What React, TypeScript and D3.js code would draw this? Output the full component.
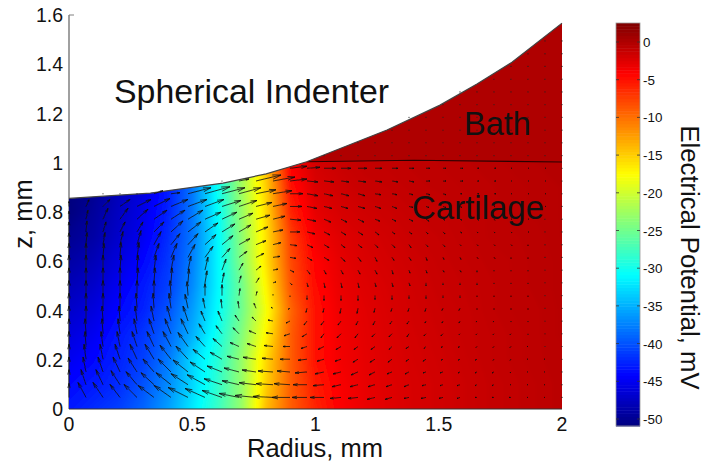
import React from 'react';
import * as d3 from 'd3';

const width = 717;
const height = 466;

const xTicks = [0, 0.5, 1, 1.5, 2];
const yTicks = [0, 0.2, 0.4, 0.6, 0.8, 1, 1.2, 1.4, 1.6];
const barTicks = [0, -5, -10, -15, -20, -25, -30, -35, -40, -45, -50];

// indenter contact surface and cartilage/bath interface, mm
const surfaceR = [0, 0.33, 0.625, 0.8, 0.964, 1.29, 1.505, 1.655, 1.797, 2];
const surfaceZ = [0.855, 0.877, 0.917, 0.955, 1.004, 1.133, 1.234, 1.32, 1.408, 1.567];
const interfaceR = [0.964, 1.4, 2];
const interfaceZ = [1.004, 1.01, 1.003];

const bathPotential = 0;

// potential in mV, one row per z (0, 0.1 ... 1.0), one value per r (0, 0.1 ... 2.0)
const potential = [
  [-43, -42, -41, -39, -36, -32, -28, -23, -14, -9, -6, -4, -3, -2.5, -2, -1.7, -1.4, -1.1, -0.9, -0.7, -0.5],
  [-44, -43, -42, -40, -37, -33, -28.5, -23, -15, -9, -5.5, -3.8, -2.9, -2.4, -2, -1.7, -1.4, -1.1, -0.9, -0.7, -0.5],
  [-45, -44, -42.5, -41, -38, -33, -29, -23, -15.5, -9, -5, -3.5, -2.8, -2.3, -1.9, -1.6, -1.3, -1, -0.8, -0.6, -0.5],
  [-46, -45, -43, -41.5, -39, -35, -30, -24, -17, -9, -5, -3.4, -2.7, -2.2, -1.8, -1.5, -1.2, -1, -0.8, -0.6, -0.4],
  [-47, -46, -44, -42.5, -40, -36, -31, -25, -18, -9.5, -5, -3.2, -2.6, -2.1, -1.7, -1.4, -1.2, -0.9, -0.7, -0.6, -0.4],
  [-48, -47, -45, -43, -41, -37, -31.5, -25, -17, -8.5, -4.6, -3, -2.4, -2, -1.6, -1.3, -1.1, -0.9, -0.7, -0.5, -0.4],
  [-49, -48, -46, -44, -41.5, -37.5, -31.5, -24, -16, -8, -4.2, -2.8, -2.2, -1.8, -1.5, -1.2, -1, -0.8, -0.7, -0.5, -0.4],
  [-50, -49, -47, -45, -42, -38, -31.5, -23.5, -16, -7.5, -3.5, -2.5, -2, -1.6, -1.3, -1.1, -0.9, -0.7, -0.6, -0.5, -0.3],
  [-51, -49.5, -47.5, -45.5, -42.5, -38, -31, -23, -15.5, -6, -2.8, -2, -1.6, -1.4, -1.1, -1, -0.8, -0.7, -0.5, -0.4, -0.3],
  [-51, -50, -48, -46, -43, -38, -30.5, -22.5, -15, -5, -2.2, -1.6, -1.2, -1.1, -0.9, -0.8, -0.7, -0.6, -0.5, -0.4, -0.3],
  [-51, -50, -48, -46, -43, -38, -30, -22, -14, -4, -1.8, -1.3, -1, -0.9, -0.8, -0.7, -0.6, -0.5, -0.4, -0.3, -0.3],
];

// arrow components, rows bottom to top, columns r = 2*i/29 for i = 1..29
const flowU = [
  [-8, -10, -10, -13, -16, -17, -20, -20, -20, -20, -21, -20, -18, -15, -14, -11, -10, -8, -7, -5, -5, -4, -3, -2, -2, -2, -1, -1, 0],
  [-5, -7, -9, -11, -13, -15, -17, -18, -18, -17, -17, -17, -16, -14, -11, -9, -8, -7, -6, -5, -4, -3, -3, -2, -2, -1, -1, -1, 0],
  [-3, -5, -7, -9, -11, -13, -15, -15, -15, -15, -14, -15, -13, -12, -9, -8, -7, -6, -5, -4, -3, -3, -2, -2, -2, -1, -1, -1, 0],
  [-2, -3, -5, -7, -9, -11, -12, -12, -12, -12, -13, -11, -10, -9, -7, -6, -5, -5, -4, -3, -3, -2, -2, -2, -1, -1, -1, -1, 0],
  [-1, -2, -3, -5, -7, -8, -10, -9, -9, -9, -9, -9, -7, -6, -6, -5, -4, -4, -3, -3, -2, -2, -2, -1, -1, -1, -1, 0, 0],
  [-1, -1, -2, -3, -5, -6, -7, -6, -6, -6, -7, -7, -6, -5, -3, -4, -3, -3, -3, -2, -2, -2, -1, -1, -1, -1, 0, 0, 0],
  [0, -1, -1, -2, -3, -4, -5, -4, -4, -4, -4, -5, -4, -3, -3, -3, -2, -2, -2, -2, -1, -1, -1, -1, -1, 0, 0, 0, 0],
  [0, 0, 0, -1, -1, -2, -3, -2, -1, -1, -2, -2, -2, -1, -1, -1, -1, -1, -1, -1, -1, -1, -1, 0, 0, 0, 0, 0, 0],
  [0, 0, 0, 0, 0, -1, -1, 0, 0, 1, 1, 0, 0, 0, 0, 0, 0, 0, 0, 0, 0, 0, 0, 0, 0, 0, 0, 0, 0],
  [0, 0, 0, 1, 1, 1, 1, 2, 2, 2, 3, 3, 2, 1, 1, 1, 1, 1, 1, 1, 0, 0, 0, 0, 0, 0, 0, 0, 0],
  [0, 0, 1, 1, 2, 3, 3, 3, 4, 4, 5, 5, 4, 3, 2, 2, 2, 2, 1, 1, 1, 1, 1, 0, 0, 0, 0, 0, 0],
  [0, 1, 1, 2, 5, 6, 7, 8, 8, 8, 8, 7, 6, 5, 5, 4, 3, 2, 2, 2, 1, 1, 1, 1, 1, 0, 0, 0, 0],
  [1, 2, 3, 4, 7, 9, 10, 11, 11, 11, 10, 8, 7, 6, 5, 4, 4, 3, 3, 2, 2, 2, 1, 1, 1, 1, 0, 0, 0],
  [1, 3, 5, 6, 10, 12, 13, 13, 13, 12, 12, 10, 10, 8, 6, 5, 5, 4, 3, 3, 2, 2, 2, 1, 1, 1, 1, 0, 0],
  [2, 5, 8, 11, 13, 14, 15, 16, 15, 14, 14, 12, 11, 9, 7, 6, 6, 5, 4, 4, 3, 2, 2, 2, 1, 1, 1, 0, 0],
  [3, 7, 10, 14, 16, 17, 19, 19, 19, 18, 16, 14, 12, 10, 8, 7, 7, 6, 5, 4, 3, 3, 2, 2, 1, 1, 1, 1, 0],
  [0, 0, 0, 0, 9, 9, 23, 25, 23, 22, 20, 19, 13, 11, 9, 8, 7, 6, 5, 4, 4, 3, 2, 2, 2, 1, 1, 1, 0],
  [0, 0, 0, 0, 0, 0, 0, 0, 0, 10, 25, 22, 17, 11, 10, 8, 8, 7, 6, 5, 4, 3, 3, 2, 2, 1, 1, 1, 0],
  [0, 0, 0, 0, 0, 0, 0, 0, 0, 0, 0, 0, 17, 13, 12, 10, 9, 7, 6, 5, 4, 3, 3, 2, 2, 1, 1, 1, 0],
];
const flowV = [
  [15, 15, 13, 13, 12, 12, 10, 9, 7, 4, 2, 1, 0, 0, 0, -1, -1, -2, -2, -1, -1, -1, -1, 0, 0, 0, 0, 0, 0],
  [15, 15, 14, 13, 12, 12, 11, 10, 6, 4, 2, 1, 1, 0, -1, -2, -2, -2, -2, -2, -1, -1, -1, -1, -1, 0, 0, 0, 0],
  [15, 15, 15, 14, 13, 13, 12, 10, 6, 4, 2, 1, 1, -1, -2, -2, -3, -3, -2, -2, -1, -1, -1, -1, -1, -1, 0, 0, 0],
  [15, 15, 15, 15, 15, 14, 13, 10, 7, 3, 2, 1, 0, -1, -2, -2, -3, -3, -3, -2, -2, -1, -1, -1, -1, -1, 0, 0, 0],
  [15, 15, 15, 15, 15, 15, 14, 10, 8, 4, 3, 1, 0, -2, -3, -3, -3, -3, -3, -2, -2, -1, -1, -1, -1, -1, 0, 0, 0],
  [15, 15, 15, 15, 15, 15, 15, 10, 8, 6, 3, 1, -2, -3, -4, -4, -4, -3, -3, -3, -2, -2, -1, -1, -1, -1, -1, 0, 0],
  [15, 15, 15, 15, 15, 15, 15, 10, 10, 6, 4, 1, -2, -4, -4, -4, -4, -4, -3, -3, -2, -2, -2, -1, -1, -1, -1, 0, 0],
  [15, 15, 15, 15, 15, 15, 14, 10, 9, 7, 5, 1, -1, -4, -4, -5, -5, -4, -3, -3, -3, -2, -2, -1, -1, -1, -1, 0, 0],
  [15, 15, 15, 15, 15, 15, 14, 12, 11, 7, 4, 1, -1, -4, -5, -5, -5, -4, -4, -3, -3, -2, -2, -1, -1, -1, -1, 0, 0],
  [15, 15, 15, 15, 15, 15, 14, 12, 10, 7, 5, 1, -2, -4, -5, -5, -5, -4, -4, -3, -3, -2, -2, -2, -1, -1, -1, 0, 0],
  [15, 15, 15, 15, 15, 15, 14, 13, 11, 7, 4, 1, -2, -4, -4, -4, -4, -4, -4, -3, -3, -2, -2, -2, -1, -1, -1, 0, 0],
  [14, 14, 15, 15, 14, 14, 13, 11, 9, 6, 4, 1, -1, -3, -3, -4, -4, -4, -3, -3, -3, -2, -2, -1, -1, -1, -1, 0, 0],
  [12, 12, 13, 14, 13, 11, 11, 10, 9, 6, 4, 2, -1, -3, -3, -3, -3, -3, -3, -3, -2, -2, -1, -1, -1, -1, -1, 0, 0],
  [11, 10, 10, 10, 10, 11, 10, 9, 8, 7, 5, 2, 0, -2, -3, -3, -3, -3, -2, -2, -2, -2, -1, -1, -1, -1, 0, 0, 0],
  [9, 11, 11, 10, 9, 9, 9, 7, 7, 6, 4, 3, -1, -2, -3, -3, -3, -2, -2, -2, -2, -1, -1, -1, -1, 0, 0, 0, 0],
  [7, 7, 7, 7, 8, 7, 7, 7, 6, 6, 4, 3, 0, -2, -2, -2, -2, -2, -2, -1, -1, -1, -1, -1, 0, 0, 0, 0, 0],
  [0, 0, 0, 0, 3, 1, 6, 7, 6, 6, 4, 3, 0, -2, -2, -2, -2, -1, -1, -1, -1, -1, 0, 0, 0, 0, 0, 0, 0],
  [0, 0, 0, 0, 0, 0, 0, 0, 0, 2, 6, 4, 2, -1, -1, -1, -1, -1, -1, -1, 0, 0, 0, 0, 0, 0, 0, 0, 0],
  [0, 0, 0, 0, 0, 0, 0, 0, 0, 0, 0, 0, 2, 1, 0, 0, 0, 0, 0, 0, 0, 0, 0, 0, 0, 0, 0, 0, 0],
];
// the arrows that sit on the r = 0 axis, only z component
const axisFlowV = [14, 15, 15, 15, 15, 15, 15, 15, 15, 15, 15, 14, 12, 10, 8, 5];

const gridCols = 29;
const gridRows = 29; // the ones above the surface are skipped, bath rows have no flow
const firstRowZ = 0.047;
const rowStepZ = 0.0517;
const flowToMm = 1 / 246.5;

const x = d3.scaleLinear().domain([0, 2]).range([69, 562]);
const y = d3.scaleLinear().domain([0, 1.6]).range([409, 15]);
const barY = d3.scaleLinear().domain([0, -50]).range([42, 419]);
const barMin = -51;
const barMax = 2.5;

// matlab jet
function jet(v: number) {
  const t = Math.max(0, Math.min(1, (v - barMin) / (barMax - barMin)));
  const c = (a: number) => Math.round(255 * Math.max(0, Math.min(1, a)));
  return d3.rgb(c(1.5 - Math.abs(4 * t - 3)), c(1.5 - Math.abs(4 * t - 2)), c(1.5 - Math.abs(4 * t - 1))).formatHex();
}

const levels = d3.range(barMin, barMax, (barMax - barMin) / 400);
const contours = d3
  .contours()
  .size([potential[0].length, potential.length])
  .smooth(true)
  .thresholds(levels)(potential.flat());

const gridPath = d3.geoPath(
  d3.geoTransform({
    point(cx: number, cy: number) {
      this.stream.point(x((cx - 0.5) * 0.1), y((cy - 0.5) * 0.1));
    },
  })
);

const surfacePts = surfaceR.map((r, i) => [r, surfaceZ[i]] as [number, number]);
const interfacePts = interfaceR.map((r, i) => [r, interfaceZ[i]] as [number, number]);
const line = d3.line<[number, number]>().x((d) => x(d[0])).y((d) => y(d[1]));
const underSurface = d3
  .area<[number, number]>()
  .x((d) => x(d[0]))
  .y0(y(0))
  .y1((d) => y(d[1]));
const surfaceAt = d3.scaleLinear().domain(surfaceR).range(surfaceZ);
const interfaceAt = d3.scaleLinear().domain(interfaceR).range(interfaceZ).clamp(true);
const bathArea = d3
  .area<[number, number]>()
  .x((d) => x(d[0]))
  .y0((d) => y(interfaceAt(d[0])))
  .y1((d) => y(d[1]));

function quiver() {
  const p = d3.path();
  const dots: [number, number][] = [];
  for (let j = 0; j < gridRows; j++) {
    const z = firstRowZ + j * rowStepZ;
    for (let i = 0; i <= gridCols; i++) {
      const r = (2 * i) / gridCols;
      if (z > surfaceAt(r) + 0.012) continue;
      let u = 0;
      let v = 0;
      if (i === 0) {
        v = j < axisFlowV.length ? axisFlowV[j] : 0;
      } else if (j < flowU.length) {
        u = flowU[j][i - 1];
        v = flowV[j][i - 1];
      }
      if (u === 0 && v === 0) {
        dots.push([x(r), y(z)]);
        continue;
      }
      const x0 = x(r);
      const y0 = y(z);
      const x1 = x(r + u * flowToMm);
      const y1 = y(z + v * flowToMm);
      const dx = x1 - x0;
      const dy = y1 - y0;
      p.moveTo(x0, y0);
      p.lineTo(x1, y1);
      // head, close to matlab's quiver proportions
      const hx = x1 - 0.33 * (dx + 0.25 * dy);
      const hy = y1 - 0.33 * (dy - 0.25 * dx);
      const kx = x1 - 0.33 * (dx - 0.25 * dy);
      const ky = y1 - 0.33 * (dy + 0.25 * dx);
      p.moveTo(hx, hy);
      p.lineTo(x1, y1);
      p.lineTo(kx, ky);
    }
  }
  return { d: p.toString(), dots };
}

const arrows = quiver();
const arial = '"Liberation Sans", Arial, sans-serif';

export default function App() {
  const barSteps = d3.range(0, 128);
  const barScale = d3.scaleLinear().domain([0, 128]).range([426, 23]);
  return (
    <svg
      width={width}
      height={height}
      style={{ position: 'absolute', left: 0, top: 0, background: '#fff' }}
      fontFamily={arial}
      fill="#111"
    >
      <defs>
        <clipPath id="domain">
          <path d={underSurface(surfacePts) as string} />
        </clipPath>
        <filter id="soft" x="-5%" y="-5%" width="110%" height="110%">
          <feGaussianBlur stdDeviation="0.3" />
        </filter>
        <filter id="fieldBlur" x="-5%" y="-5%" width="110%" height="110%">
          <feGaussianBlur stdDeviation="1.5" />
        </filter>
      </defs>

      <line x1={x(0)} x2={x(0)} y1={y(1.6)} y2={y(0)} stroke="#808080" strokeWidth={1.5} />
      <line x1={x(0)} x2={x(0) + 5} y1={y(1.6)} y2={y(1.6)} stroke="#808080" strokeWidth={1} />

      <g clipPath="url(#domain)">
        <g filter="url(#fieldBlur)">
          <rect x={x(0) - 10} y={y(1.6)} width={x(2) - x(0) + 20} height={y(0) - y(1.6) + 10} fill={jet(bathPotential)} />
          {contours.map((c, i) => (
            <path key={i} d={gridPath(c) as string} fill={jet(c.value)} />
          ))}
        </g>
        <path d={bathArea(surfacePts.filter((d) => d[0] >= interfaceR[0])) as string} fill={jet(bathPotential)} />
        <path d={line(interfacePts) as string} fill="none" stroke="#2a0000" strokeWidth={1.1} />
      </g>
      <path d={line(surfacePts) as string} fill="none" stroke="#444" strokeWidth={1.2} />
      <line x1={x(0)} x2={x(2)} y1={y(0)} y2={y(0)} stroke="#333" strokeWidth={1.2} />

      <g filter="url(#soft)">
        <path d={arrows.d} fill="none" stroke="#111" strokeWidth={0.8} />
        {arrows.dots.map((d, i) => (
          <circle key={i} cx={d[0]} cy={d[1]} r={0.6} fill="#222" />
        ))}
      </g>

      {xTicks.map((t) => (
        <text key={t} x={x(t)} y={431} textAnchor="middle" fontSize={19.5}>
          {t}
        </text>
      ))}
      {yTicks.map((t) => (
        <text key={t} x={63} y={y(t) + 7} textAnchor="end" fontSize={19.5}>
          {t}
        </text>
      ))}
      <text x={315} y={457} textAnchor="middle" fontSize={25.5}>
        Radius, mm
      </text>
      <text transform="translate(32,214) rotate(-90)" textAnchor="middle" fontSize={25.5}>
        z, mm
      </text>

      <text x={114} y={103} fontSize={33.9}>
        Spherical Indenter
      </text>
      <text x={464} y={135} fontSize={32.5}>
        Bath
      </text>
      <text x={412} y={219} fontSize={33}>
        Cartilage
      </text>

      {barSteps.map((s) => (
        <rect
          key={s}
          x={616}
          width={24}
          y={barScale(s + 1)}
          height={barScale(s) - barScale(s + 1) + 0.5}
          fill={jet(barMin + ((s + 0.5) / 128) * (barMax - barMin))}
        />
      ))}
      <rect x={616} y={23} width={24} height={403} fill="none" stroke="#9a9a9a" strokeWidth={0.8} />
      {barTicks.map((t) => (
        <g key={t}>
          <line x1={616} x2={619} y1={barY(t)} y2={barY(t)} stroke="#333" strokeWidth={0.8} />
          <line x1={637} x2={640} y1={barY(t)} y2={barY(t)} stroke="#333" strokeWidth={0.8} />
          <text x={643} y={barY(t) + 5} fontSize={13.4}>
            {t}
          </text>
        </g>
      ))}
      <text transform="translate(681,257.5) rotate(90)" textAnchor="middle" fontSize={25.7}>
        Electrical Potential, mV
      </text>
    </svg>
  );
}
